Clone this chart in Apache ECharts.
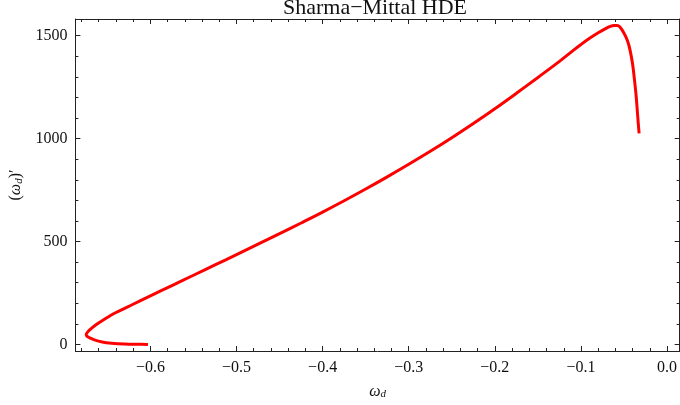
<!DOCTYPE html>
<html>
<head>
<meta charset="utf-8">
<script src="https://cdn.jsdelivr.net/npm/echarts@6/dist/echarts.min.js"></script>
<style>html,body{margin:0;padding:0;background:#fff}#c{width:680px;height:405px}</style>
</head>
<body>
<div id="c"></div>
<script>
var titleText = 'Sharma\u2212Mittal HDE';
var wdValues = [-0.6028, -0.615, -0.630, -0.645, -0.656, -0.665, -0.6705, -0.6738, -0.6745, -0.6725, -0.6685, -0.6615, -0.652, -0.6423, -0.623, -0.600, -0.575, -0.550, -0.525, -0.500, -0.475, -0.450, -0.425, -0.400, -0.375, -0.350, -0.325, -0.300, -0.275, -0.250, -0.225, -0.200, -0.175, -0.150, -0.125, -0.110, -0.100, -0.090, -0.080, -0.072, -0.066, -0.062, -0.058, -0.055, -0.050, -0.046, -0.043, -0.040, -0.038, -0.036, -0.0345, -0.0335, -0.0325];
var wdPrimeValues = [0, 0.5, 2, 6, 12, 22, 32, 40, 48, 62, 78, 100, 126, 150, 189, 236, 286, 336, 386, 436, 487, 538, 590, 643, 698, 755, 814, 875, 938, 1004, 1073, 1145, 1220, 1297, 1375, 1425, 1457, 1487, 1514, 1533, 1545, 1550, 1550, 1543, 1512, 1475, 1430, 1360, 1290, 1210, 1130, 1075, 1025];
var xMajorTicks = [-0.6, -0.5, -0.4, -0.3, -0.2, -0.1, 0.0];
var xMinorTicks = [-0.68, -0.66, -0.64, -0.62, -0.58, -0.56, -0.54, -0.52, -0.48, -0.46, -0.44, -0.42, -0.38, -0.36, -0.34, -0.32, -0.28, -0.26, -0.24, -0.22, -0.18, -0.16, -0.14, -0.12, -0.08, -0.06, -0.04, -0.02];
var yMajorTicks = [0, 500, 1000, 1500];
var yMinorTicks = [100, 200, 300, 400, 600, 700, 800, 900, 1100, 1200, 1300, 1400];

var X_MIN = -0.6871, X_MAX = 0.0146, Y_MIN = -32, Y_MAX = 1581;
var FONT = '"Liberation Serif", "Times New Roman", serif';
var data = wdValues.map(function (v, i) { return [v, wdPrimeValues[i]]; });

function fmtX(v) {
  var s = Math.abs(v).toFixed(1);
  return v < -1e-9 ? '\u2212' + s : s;
}
function fmtY(v) { return String(Math.round(v)); }
function xAx(pos, ticks, len, line, labels) {
  return {
    type: 'value', position: pos, min: X_MIN, max: X_MAX, scale: true,
    axisLine: { show: line, onZero: false, lineStyle: { color: '#222', width: 1 } },
    axisTick: { show: true, inside: true, length: len, customValues: ticks, lineStyle: { color: '#222', width: 1 } },
    axisLabel: labels ? { show: true, customValues: xMajorTicks, formatter: fmtX, fontFamily: FONT, fontSize: 16, color: '#111', margin: 9 } : { show: false },
    splitLine: { show: false }
  };
}
function yAx(pos, ticks, len, line, labels) {
  return {
    type: 'value', position: pos, min: Y_MIN, max: Y_MAX, scale: true,
    axisLine: { show: line, onZero: false, lineStyle: { color: '#222', width: 1 } },
    axisTick: { show: true, inside: true, length: len, customValues: ticks, lineStyle: { color: '#222', width: 1 } },
    axisLabel: labels ? { show: true, customValues: yMajorTicks, formatter: fmtY, fontFamily: FONT, fontSize: 16, color: '#111', margin: 8 } : { show: false },
    splitLine: { show: false }
  };
}

var chart = echarts.init(document.getElementById('c'), null, { renderer: 'canvas' });
var xa = [xAx('bottom', xMajorTicks, 5, true, true), xAx('bottom', xMinorTicks, 3, false, false), xAx('top', xMajorTicks, 5, true, false), xAx('top', xMinorTicks, 3, false, false)];
var ya = [yAx('left', yMajorTicks, 5, true, true), yAx('left', yMinorTicks, 3, false, false), yAx('right', yMajorTicks, 5, true, false), yAx('right', yMinorTicks, 3, false, false)];
xa[0].name = '{i|\u03c9}{s|d}';
xa[0].nameLocation = 'middle';
xa[0].nameGap = 32;
xa[0].nameTextStyle = { rich: { i: { fontFamily: FONT, fontStyle: 'italic', fontSize: 16, color: '#111' }, s: { fontFamily: FONT, fontStyle: 'italic', fontSize: 11, color: '#111', verticalAlign: 'bottom', padding: [6, 0, 0, 0] } } };
ya[0].name = '{n|(}{i|\u03c9}{s|d}{n|)\u2032}';
ya[0].nameLocation = 'middle';
ya[0].nameGap = 47;
ya[0].nameRotate = 90;
ya[0].nameTextStyle = { rich: { n: { fontFamily: FONT, fontSize: 16, color: '#111' }, i: { fontFamily: FONT, fontStyle: 'italic', fontSize: 16, color: '#111' }, s: { fontFamily: FONT, fontStyle: 'italic', fontSize: 11, color: '#111', verticalAlign: 'bottom', padding: [6, 0, 0, 0] } } };

chart.setOption({
  animation: false,
  backgroundColor: '#fff',
  graphic: [{
    type: 'text', x: 375, y: 8, z: 10,
    style: { text: titleText, font: 'normal 22px ' + FONT, fill: '#111', textAlign: 'center', textVerticalAlign: 'middle' }
  }],
  grid: { left: 71, right: -1, top: 19, bottom: 53, containLabel: false },
  xAxis: xa,
  yAxis: ya,
  series: [{
    type: 'line', xAxisIndex: 0, yAxisIndex: 0, data: data, showSymbol: false, smooth: 0.4,
    lineStyle: { color: '#ff0000', width: 3 }, clip: false
  }]
});
</script>
</body>
</html>
